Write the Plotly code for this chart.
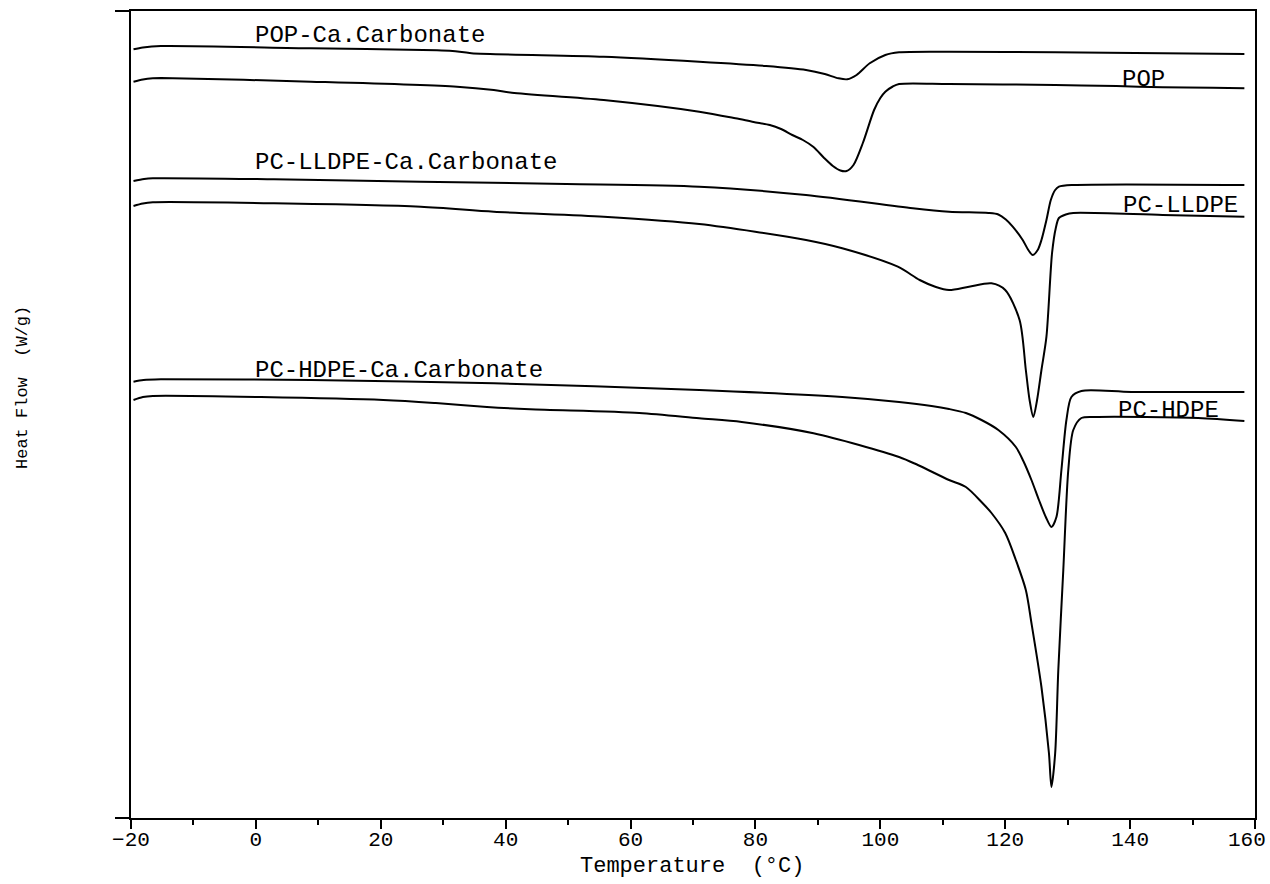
import plotly.graph_objects as go

# ---------------- data (heat flow in relative, offset units) ----------------
pop_ca_T = [-19.6, -18.1, -15.2, 8.8, 29.0, 31.5, 34.5, 55.7, 71.0, 81.7, 88.1, 91.1, 93.3, 94.7, 96.2, 98.3, 100.8, 103.0, 111.0, 128.0, 145.2, 158.3]
pop_ca_H = [768.7, 770.5, 772.0, 769.7, 767.8, 767.0, 764.8, 761.3, 756.3, 752.0, 748.0, 744.0, 739.7, 738.7, 743.0, 754.7, 763.0, 765.7, 766.3, 765.7, 764.7, 764.0]

pop_T = [-19.6, -18.1, -16.5, -15.2, 8.8, 32.2, 38.1, 41.0, 55.7, 71.0, 76.8, 79.7, 82.3, 84.1, 85.9, 87.6, 89.3, 91.0, 92.4, 93.6, 94.6, 95.7, 97.2, 99.0, 100.0, 100.8, 102.0, 103.0, 111.0, 128.0, 137.8, 145.2, 153.2, 158.3]
pop_H = [736.3, 738.5, 739.7, 740.0, 736.3, 731.3, 728.0, 725.3, 718.0, 706.3, 699.7, 696.0, 693.0, 689.0, 683.0, 678.0, 671.0, 660.0, 652.0, 647.5, 647.0, 653.0, 675.0, 708.0, 720.0, 726.3, 731.5, 734.0, 734.0, 733.0, 732.0, 730.7, 730.3, 729.7]

lldpe_ca_T = [-19.6, -17.9, -16.5, 2.9, 26.4, 49.7, 71.0, 88.1, 105.2, 111.0, 117.3, 118.9, 120.1, 121.2, 122.8, 123.7, 124.4, 125.2, 125.8, 126.6, 127.3, 128.0, 128.6, 130.9, 158.3]
lldpe_ca_H = [637.0, 639.0, 639.7, 638.7, 636.3, 634.0, 631.3, 623.0, 609.7, 606.3, 605.0, 603.5, 598.5, 591.3, 578.0, 568.0, 563.0, 568.0, 578.0, 598.0, 618.0, 628.0, 631.3, 633.0, 633.0]

lldpe_T = [-19.6, -18.1, -16.5, 2.9, 26.4, 38.1, 55.7, 71.0, 88.1, 93.9, 102.8, 106.3, 108.9, 111.0, 114.2, 117.8, 120.0, 122.3, 123.3, 123.9, 124.5, 125.1, 125.8, 126.6, 127.5, 128.1, 128.6, 129.7, 130.9, 145.2, 158.3]
lldpe_H = [612.0, 614.5, 615.7, 614.7, 611.3, 606.3, 601.3, 594.0, 578.0, 569.7, 551.3, 538.0, 531.0, 528.0, 531.3, 534.7, 528.0, 498.0, 448.0, 418.0, 401.0, 418.0, 448.0, 481.3, 565.0, 590.0, 600.0, 603.5, 605.0, 603.0, 601.3]

hdpe_ca_T = [-19.6, -18.0, -15.2, 8.8, 38.1, 71.0, 93.9, 103.0, 108.2, 111.0, 113.7, 116.2, 118.9, 121.7, 122.9, 124.2, 125.4, 126.5, 127.4, 128.2, 129.0, 129.8, 130.6, 132.2, 140.2, 158.3]
hdpe_ca_H = [436.3, 438.0, 438.7, 438.0, 434.7, 428.0, 421.0, 416.0, 412.0, 409.0, 405.0, 398.0, 388.0, 371.0, 357.0, 338.0, 318.0, 301.0, 291.0, 301.0, 348.0, 398.0, 421.0, 427.0, 426.0, 426.0]

hdpe_T = [-19.6, -18.1, -16.5, 20.4, 28.8, 37.0, 43.9, 61.4, 71.0, 77.8, 89.3, 103.0, 106.0, 111.0, 113.7, 116.2, 117.8, 120.0, 121.7, 123.3, 124.2, 125.8, 127.0, 127.4, 128.0, 128.5, 129.3, 130.1, 130.9, 132.2, 134.9, 150.9, 158.3]
hdpe_H = [418.0, 421.0, 422.0, 418.0, 415.0, 411.0, 408.7, 405.0, 399.7, 396.0, 384.7, 361.0, 353.0, 338.0, 331.0, 316.0, 305.0, 285.0, 258.0, 228.0, 195.0, 131.0, 65.0, 31.0, 65.0, 148.0, 248.0, 348.0, 388.0, 400.0, 401.0, 400.0, 397.0]

series = [
    ("POP-Ca.Carbonate", pop_ca_T, pop_ca_H),
    ("POP", pop_T, pop_H),
    ("PC-LLDPE-Ca.Carbonate", lldpe_ca_T, lldpe_ca_H),
    ("PC-LLDPE", lldpe_T, lldpe_H),
    ("PC-HDPE-Ca.Carbonate", hdpe_ca_T, hdpe_ca_H),
    ("PC-HDPE", hdpe_T, hdpe_H),
]

# curve labels: (text, x, y, anchor)
labels = [
    ("POP-Ca.Carbonate", -0.5, 783, "left"),
    ("POP", 142.1, 739, "center"),
    ("PC-LLDPE-Ca.Carbonate", -0.5, 656, "left"),
    ("PC-LLDPE", 148.0, 613, "center"),
    ("PC-HDPE-Ca.Carbonate", -0.5, 448, "left"),
    ("PC-HDPE", 146.2, 408, "center"),
]

x_ticks = [-20, 0, 20, 40, 60, 80, 100, 120, 140, 160]
x_tick_text = ["\u221220", "0", "20", "40", "60", "80", "100", "120", "140", ""]
last_tick_label = "160"

FONT = "Liberation Mono, DejaVu Sans Mono, monospace"

fig = go.Figure()
for name, t, h in series:
    fig.add_trace(go.Scatter(x=t, y=h, mode="lines", name=name,
                             line=dict(color="black", width=2, shape="spline", smoothing=0.8),
                             showlegend=False, hoverinfo="skip"))

for text, x, y, anchor in labels:
    fig.add_annotation(x=x, y=y, xref="x", yref="y", text=text, showarrow=False,
                       xanchor=anchor, yanchor="middle",
                       font=dict(family=FONT, size=24, color="black"))

W, H = 1270, 884
ml, mr, mt, mb = 131, 15, 11, 66
plot_h = H - mt - mb

# last tick label kept inside the page (the reference shows it flush with the right edge)
fig.add_annotation(text=last_tick_label, xref="x", yref="paper", x=x_ticks[-1],
                   y=-(840 - (H - mb)) / plot_h, xanchor="right", yanchor="middle", xshift=13,
                   showarrow=False, font=dict(family=FONT, size=21, color="black"))

fig.add_annotation(text="Temperature  (°C)", xref="paper", yref="paper",
                   x=(692 - ml) / (W - ml - mr), y=-(866 - (H - mb)) / plot_h,
                   xanchor="center", yanchor="middle",
                   showarrow=False, font=dict(family=FONT, size=22, color="black"))
fig.add_annotation(text="Heat Flow  (W/g)", xref="paper", yref="paper",
                   x=(22 - ml) / (W - ml - mr), y=((H - mb) - 388) / plot_h,
                   xanchor="center", yanchor="middle", textangle=-90,
                   showarrow=False, font=dict(family=FONT, size=17, color="black"))

fig.update_layout(
    width=W, height=H, autosize=False,
    margin=dict(l=ml, r=mr, t=mt, b=mb, autoexpand=False),
    paper_bgcolor="white", plot_bgcolor="white",
    xaxis=dict(range=[-20, 160], tickvals=x_ticks, ticktext=x_tick_text, ticks="outside",
               ticklen=9, tickwidth=2,
               tickcolor="black", showline=True, linecolor="black", linewidth=2, mirror=True,
               showgrid=False, zeroline=False, ticklabelstandoff=-8, ticklabeloverflow="allow",
               automargin=False,
               tickfont=dict(family=FONT, size=21, color="black"),
               minor=dict(dtick=10, tick0=-20, ticks="outside", ticklen=5, tickwidth=1.5, tickcolor="black")),
    yaxis=dict(range=[0, 807], tickvals=[0, 807], ticks="outside", ticklen=14, tickwidth=2,
               tickcolor="black", showticklabels=False, showline=True, linecolor="black",
               linewidth=2, mirror=True, showgrid=False, zeroline=False, automargin=False),
)

fig.write_html("out.html")
